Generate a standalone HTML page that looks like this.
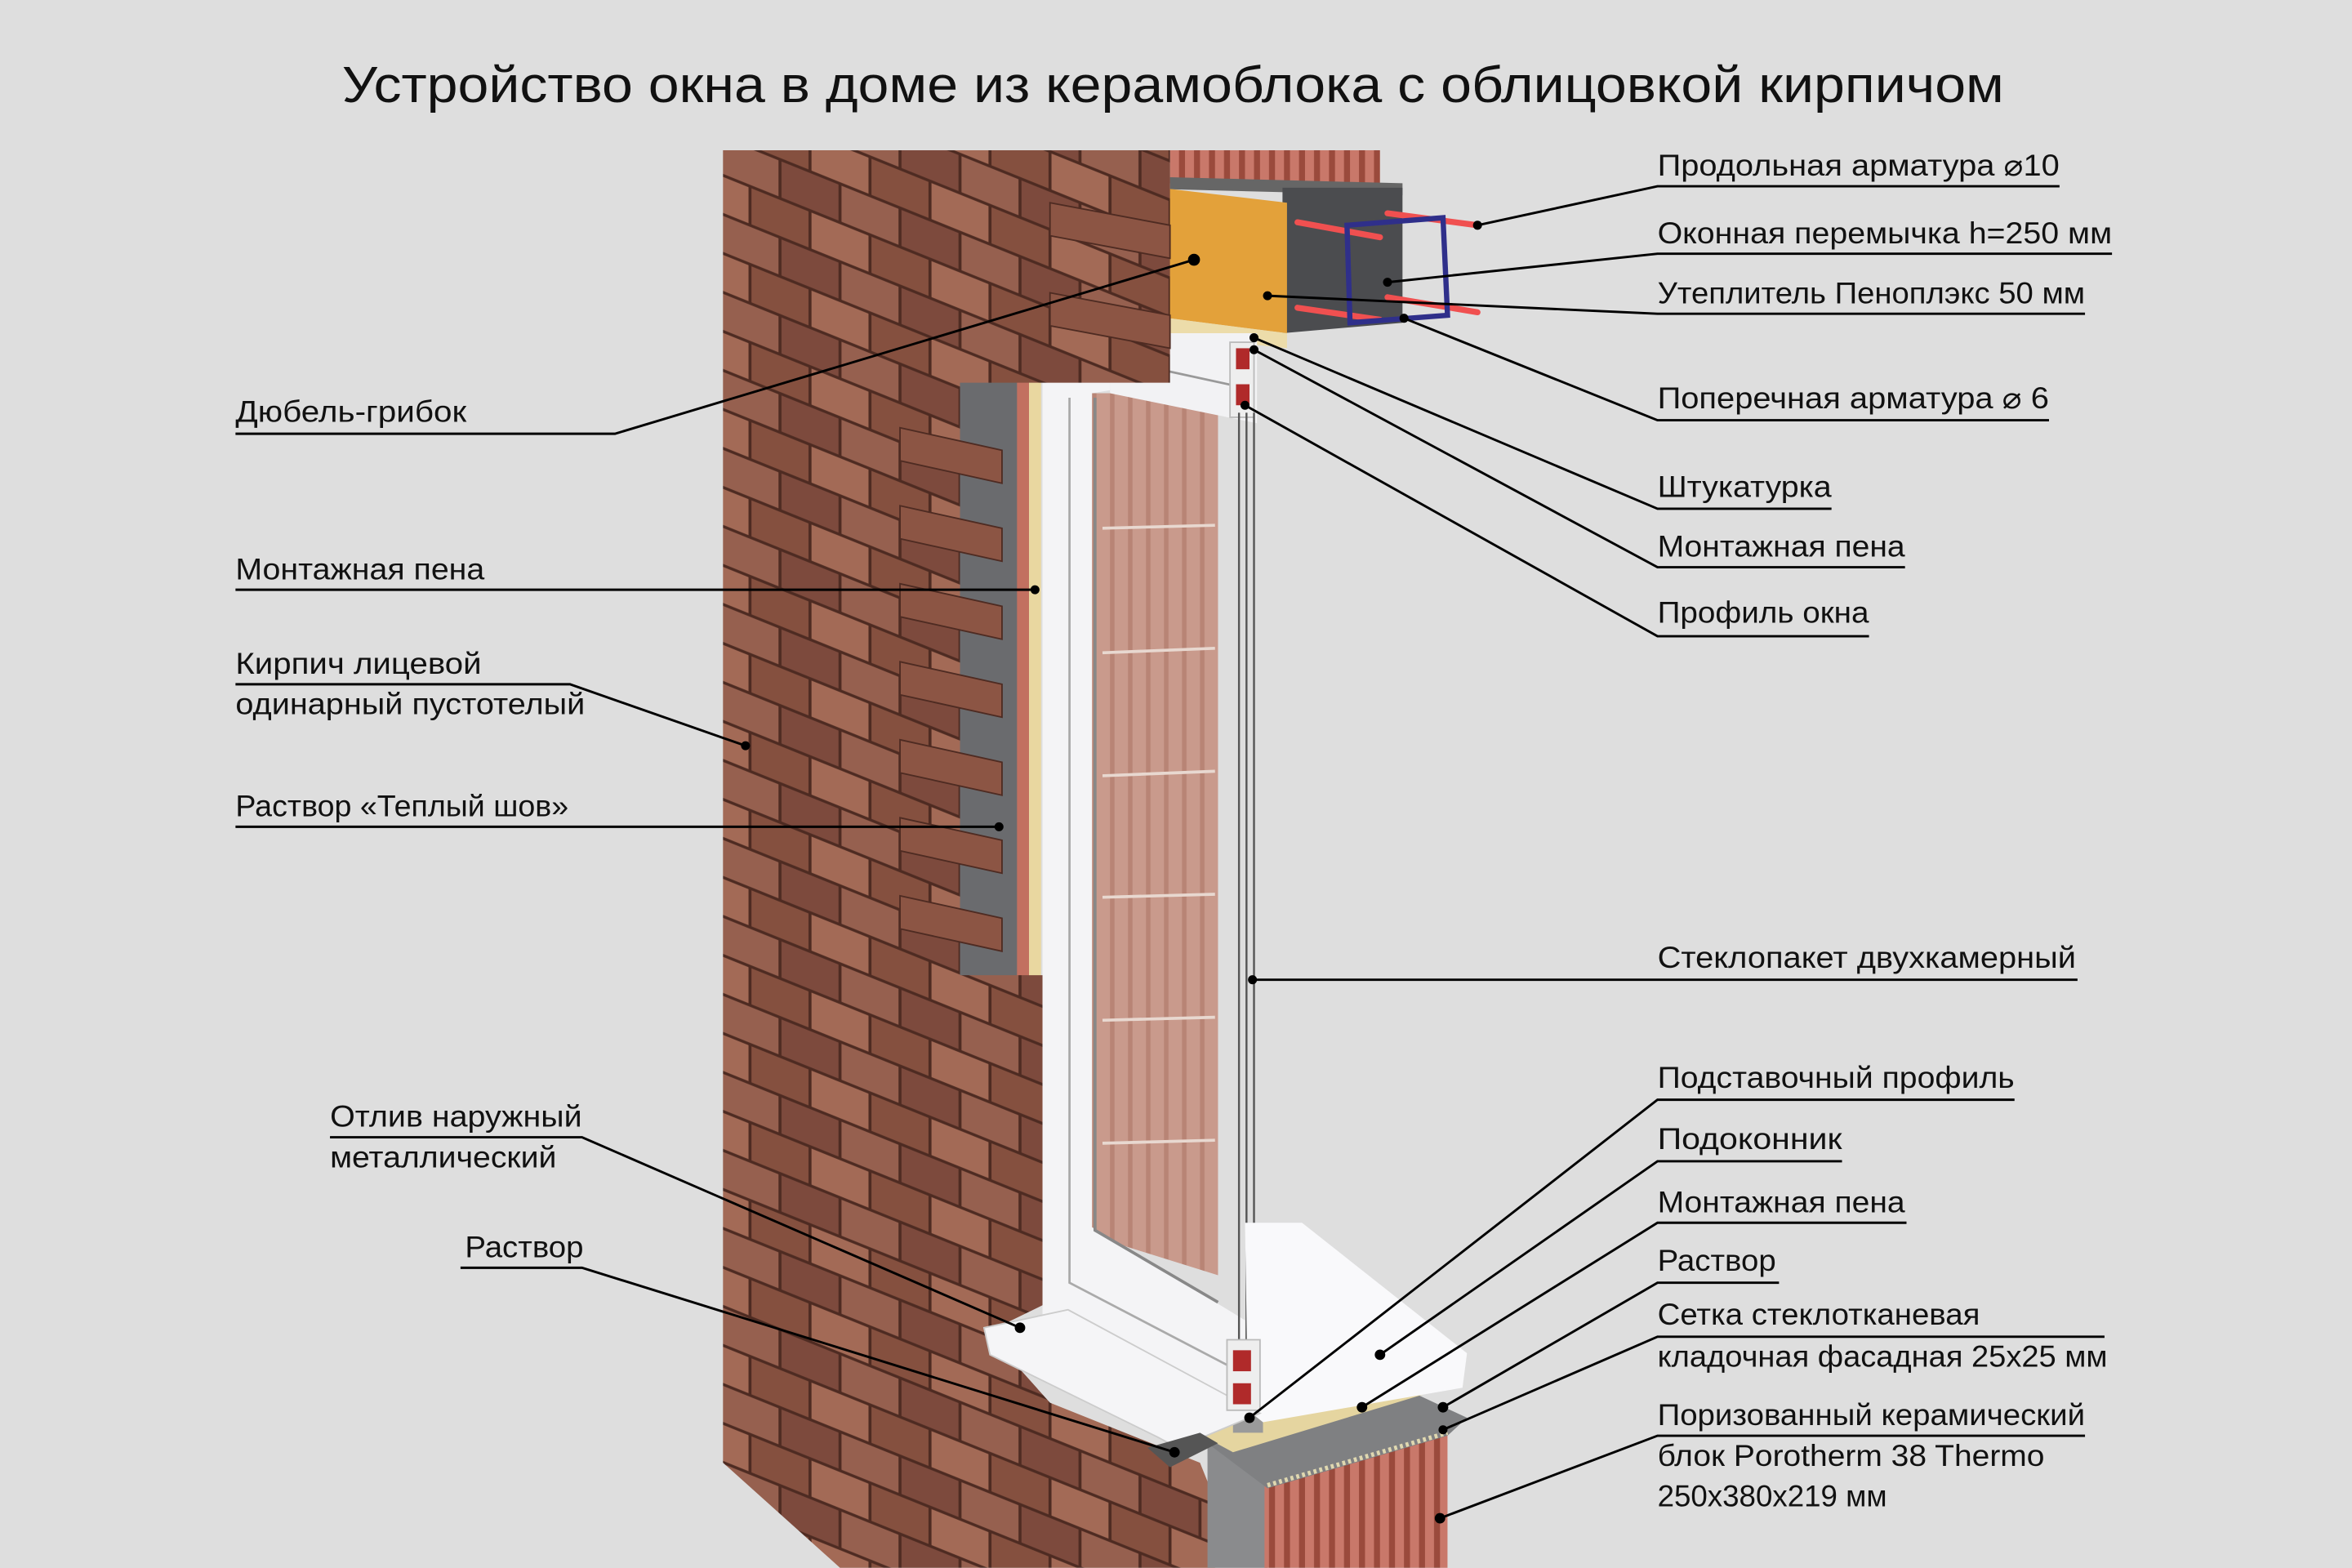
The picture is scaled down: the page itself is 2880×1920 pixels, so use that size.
<!DOCTYPE html>
<html><head><meta charset="utf-8"><style>html,body{margin:0;padding:0;background:#dedede}svg{display:block}</style></head>
<body>
<svg width="2880" height="1920" viewBox="0 0 1568 1045" xmlns="http://www.w3.org/2000/svg">
<defs>
<pattern id="br" width="80" height="52" patternUnits="userSpaceOnUse" patternTransform="skewY(22)">
<rect width="80" height="52" fill="#4e2b22"/>
<rect x="1" y="1" width="38" height="24" fill="#96604f"/>
<rect x="41" y="1" width="38" height="24" fill="#7d4a3d"/>
<rect x="-19" y="27" width="38" height="24" fill="#a36a56"/>
<rect x="21" y="27" width="38" height="24" fill="#85503f"/>
<rect x="61" y="27" width="38" height="24" fill="#a36a56"/>
</pattern>
<pattern id="cer" width="10" height="20" patternUnits="userSpaceOnUse">
<rect width="10" height="20" fill="#c9786a"/><rect x="6" width="4" height="20" fill="#9a4a3c"/>
</pattern>
<pattern id="gl" width="12" height="20" patternUnits="userSpaceOnUse">
<rect width="12" height="20" fill="#c99a8c"/><rect x="8" width="3" height="20" fill="#b88475"/>
</pattern>
</defs>
<rect width="1568" height="1045" fill="#dedede"/>
<text x="782" y="68" font-family="Liberation Sans, sans-serif" font-size="34" text-anchor="middle" textLength="1108" lengthAdjust="spacingAndGlyphs" fill="#111">Устройство окна в доме из керамоблока с облицовкой кирпичом</text>

<!-- top ceramic block and lintel -->
<polygon points="780,100 920,100 920,125 780,122" fill="url(#cer)"/>
<polygon points="780,118 935,122 935,130 780,126" fill="#666"/>
<polygon points="855,125 935,125 935,215 855,222" fill="#4b4c4f"/>
<polygon points="748,122 858,135 858,222 748,208" fill="#e3a13a"/>
<polygon points="748,208 858,222 858,232 748,220" fill="#ecdcaa"/>
<g stroke="#f05050" stroke-width="4" stroke-linecap="round"><line x1="865" y1="148" x2="920" y2="158"/><line x1="925" y1="142" x2="985" y2="150"/><line x1="865" y1="205" x2="920" y2="213"/><line x1="925" y1="198" x2="985" y2="208"/></g>
<polygon points="898,150 962,145 965,210 900,215" fill="none" stroke="#2f2f8a" stroke-width="3.5"/>

<!-- insulation / block strip -->
<rect x="630" y="245" width="60" height="410" fill="#6a6b6e"/>
<rect x="678" y="245" width="8" height="420" fill="#c27060"/>
<rect x="686" y="245" width="8" height="620" fill="#e9d7a0"/>

<!-- window glass -->
<polygon points="728,262 812,262 812,850 748,830 728,818" fill="url(#gl)"/>
<g stroke="#e8d8d0" stroke-width="2"><line x1="735" y1="352" x2="810" y2="350"/><line x1="735" y1="435" x2="810" y2="432"/><line x1="735" y1="517" x2="810" y2="514"/><line x1="735" y1="598" x2="810" y2="596"/><line x1="735" y1="680" x2="810" y2="678"/><line x1="735" y1="762" x2="810" y2="760"/></g>
<!-- frame -->
<polygon points="695,255 740,255 740,260 728,262 728,818 748,830 830,880 830,945 695,880" fill="#f4f4f6"/>
<polyline points="713,265 713,855 828,915" fill="none" stroke="#aaa" stroke-width="1.5"/>
<polyline points="730,265 730,820 812,868" fill="none" stroke="#888" stroke-width="2"/>
<polygon points="740,222 838,222 838,282 740,262" fill="#f2f2f4"/>
<line x1="745" y1="240" x2="828" y2="258" stroke="#999" stroke-width="1.5"/>
<rect x="820" y="228" width="16" height="50" fill="#eee" stroke="#bbb"/>
<rect x="824" y="232" width="9" height="14" fill="#b02a2a"/><rect x="824" y="256" width="9" height="14" fill="#b02a2a"/>
<g stroke="#555" stroke-width="1.3"><line x1="826" y1="275" x2="826" y2="900"/><line x1="831" y1="275" x2="831" y2="900"/><line x1="836" y1="275" x2="836" y2="900"/></g>

<!-- bricks -->
<polygon points="482,100 780,100 780,255 640,255 640,650 695,650 695,870 658,888 700,935 800,975 810,1000 810,1045 560,1045 482,975" fill="url(#br)"/>
<g fill="#8c5544" stroke="#4e2b22" stroke-width="1">
<polygon points="600,285 668,300 668,322 600,307"/>
<polygon points="600,337 668,352 668,374 600,359"/>
<polygon points="600,389 668,404 668,426 600,411"/>
<polygon points="600,441 668,456 668,478 600,463"/>
<polygon points="600,493 668,508 668,530 600,515"/>
<polygon points="600,545 668,560 668,582 600,567"/>
<polygon points="600,597 668,612 668,634 600,619"/>
<polygon points="700,135 780,150 780,172 700,157"/>
<polygon points="700,195 780,210 780,232 700,217"/>
</g>

<!-- bottom -->
<polygon points="805,955 845,985 845,1045 805,1045" fill="#8a8b8d"/>
<polygon points="843,988 965,952 965,1045 843,1045" fill="url(#cer)"/>
<polygon points="805,962 935,925 978,945 965,957 845,992" fill="#7f8082"/>
<line x1="845" y1="990" x2="965" y2="955" stroke="#e0d8b0" stroke-width="3" stroke-dasharray="2,2"/>
<polygon points="785,948 950,915 957,927 822,968" fill="#e5d5a0"/>
<polygon points="822,935 842,935 842,955 822,955" fill="#9a9a9a"/>
<polygon points="830,815 868,815 978,902 975,925 842,948 832,940" fill="#f9f9fb"/>
<polygon points="656,885 712,873 840,942 785,965 772,958 660,903" fill="#f5f5f7" stroke="#ccc" stroke-width="1"/>
<polygon points="818,893 840,893 840,940 818,940" fill="#eee" stroke="#bbb"/>
<rect x="822" y="900" width="12" height="14" fill="#b02a2a"/><rect x="822" y="922" width="12" height="14" fill="#b02a2a"/>
<polygon points="765,965 800,955 812,962 780,978" fill="#555"/>

<!-- leaders -->
<g stroke="#000" stroke-width="1.6" fill="none">
<polyline points="157,289 410,289 796,173"/>
<polyline points="157,393 690,393"/>
<polyline points="157,456 380,456 497,497"/>
<polyline points="157,551 666,551"/>
<polyline points="220,758 388,758 680,885"/>
<polyline points="307,845 388,845 783,968"/>
<polyline points="985,150 1105,124 1373,124"/>
<polyline points="925,188 1105,169 1408,169"/>
<polyline points="845,197 1105,209 1390,209"/>
<polyline points="936,212 1105,280 1366,280"/>
<polyline points="836,225 1105,339 1221,339"/>
<polyline points="836,233 1105,378 1270,378"/>
<polyline points="830,270 1105,424 1246,424"/>
<polyline points="835,653 1385,653"/>
<polyline points="833,945 1105,733 1343,733"/>
<polyline points="920,903 1105,774 1228,774"/>
<polyline points="908,938 1105,815 1271,815"/>
<polyline points="962,938 1105,855 1186,855"/>
<polyline points="962,953 1105,891 1403,891"/>
<polyline points="960,1012 1105,957 1390,957"/>
</g>
<g fill="#000">
<circle cx="796" cy="173" r="4"/><circle cx="690" cy="393" r="3"/><circle cx="497" cy="497" r="3"/><circle cx="666" cy="551" r="3"/><circle cx="680" cy="885" r="3.5"/><circle cx="783" cy="968" r="3.5"/>
<circle cx="985" cy="150" r="3"/><circle cx="925" cy="188" r="3"/><circle cx="845" cy="197" r="3"/><circle cx="936" cy="212" r="3"/><circle cx="836" cy="225" r="3"/><circle cx="836" cy="233" r="3"/><circle cx="830" cy="270" r="3"/><circle cx="835" cy="653" r="3"/><circle cx="833" cy="945" r="3.5"/><circle cx="920" cy="903" r="3.5"/><circle cx="908" cy="938" r="3.5"/><circle cx="962" cy="938" r="3.5"/><circle cx="962" cy="953" r="3"/><circle cx="960" cy="1012" r="3.5"/>
</g>

<g font-family="Liberation Sans, sans-serif" font-size="20" fill="#111">
<text x="157" y="281" textLength="154" lengthAdjust="spacingAndGlyphs">Дюбель-грибок</text>
<text x="157" y="386" textLength="166" lengthAdjust="spacingAndGlyphs">Монтажная пена</text>
<text x="157" y="449" textLength="164" lengthAdjust="spacingAndGlyphs">Кирпич лицевой</text>
<text x="157" y="476" textLength="233" lengthAdjust="spacingAndGlyphs">одинарный пустотелый</text>
<text x="157" y="544" textLength="222" lengthAdjust="spacingAndGlyphs">Раствор «Теплый шов»</text>
<text x="220" y="751" textLength="168" lengthAdjust="spacingAndGlyphs">Отлив наружный</text>
<text x="220" y="778" textLength="151" lengthAdjust="spacingAndGlyphs">металлический</text>
<text x="310" y="838" textLength="79" lengthAdjust="spacingAndGlyphs">Раствор</text>
<text x="1105" y="117" textLength="268" lengthAdjust="spacingAndGlyphs">Продольная арматура  ⌀10</text>
<text x="1105" y="162" textLength="303" lengthAdjust="spacingAndGlyphs">Оконная перемычка h=250 мм</text>
<text x="1105" y="202" textLength="285" lengthAdjust="spacingAndGlyphs">Утеплитель Пеноплэкс 50 мм</text>
<text x="1105" y="272" textLength="261" lengthAdjust="spacingAndGlyphs">Поперечная арматура  ⌀ 6</text>
<text x="1105" y="331" textLength="116" lengthAdjust="spacingAndGlyphs">Штукатурка</text>
<text x="1105" y="371" textLength="165" lengthAdjust="spacingAndGlyphs">Монтажная пена</text>
<text x="1105" y="415" textLength="141" lengthAdjust="spacingAndGlyphs">Профиль окна</text>
<text x="1105" y="645" textLength="279" lengthAdjust="spacingAndGlyphs">Стеклопакет двухкамерный</text>
<text x="1105" y="725" textLength="238" lengthAdjust="spacingAndGlyphs">Подставочный профиль</text>
<text x="1105" y="766" textLength="123" lengthAdjust="spacingAndGlyphs">Подоконник</text>
<text x="1105" y="808" textLength="165" lengthAdjust="spacingAndGlyphs">Монтажная пена</text>
<text x="1105" y="847" textLength="79" lengthAdjust="spacingAndGlyphs">Раствор</text>
<text x="1105" y="883" textLength="215" lengthAdjust="spacingAndGlyphs">Сетка стеклотканевая</text>
<text x="1105" y="911" textLength="300" lengthAdjust="spacingAndGlyphs">кладочная фасадная 25x25 мм</text>
<text x="1105" y="950" textLength="285" lengthAdjust="spacingAndGlyphs">Поризованный керамический</text>
<text x="1105" y="977" textLength="258" lengthAdjust="spacingAndGlyphs">блок Porotherm 38 Thermo</text>
<text x="1105" y="1004" textLength="153" lengthAdjust="spacingAndGlyphs">250x380x219 мм</text>
</g>
</svg>
</body></html>
